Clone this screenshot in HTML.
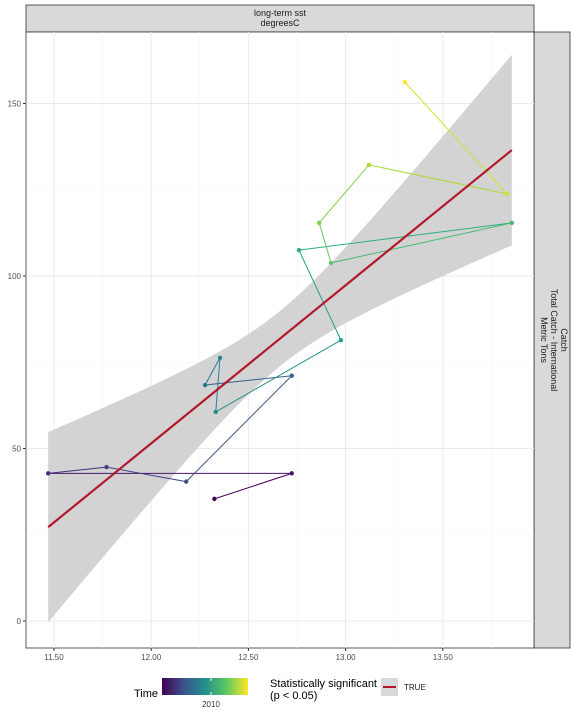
<!DOCTYPE html>
<html><head><meta charset="utf-8"><style>
html,body{margin:0;padding:0;background:#fff;}
svg{display:block;font-family:"Liberation Sans",sans-serif;}
</style></head><body>
<svg id="chart" width="576" height="720" viewBox="0 0 576 720">
<defs><linearGradient id="vir" x1="0" x2="1" y1="0" y2="0">
<stop offset="0" stop-color="#440154"/><stop offset="0.25" stop-color="#3b528b"/><stop offset="0.5" stop-color="#21908c"/><stop offset="0.75" stop-color="#5dc963"/><stop offset="1" stop-color="#fde725"/></linearGradient></defs>
<rect x="26" y="5" width="508" height="27" fill="#d9d9d9" stroke="#333" stroke-width="0.8"/>
<text x="280" y="16" font-size="9" fill="#1a1a1a" text-anchor="middle">long-term sst</text>
<text x="280" y="26" font-size="9" fill="#1a1a1a" text-anchor="middle">degreesC</text>
<rect x="534" y="32" width="36" height="616" fill="#d9d9d9" stroke="#333" stroke-width="0.8"/>
<g transform="translate(552,340) rotate(90)" font-size="9" fill="#1a1a1a" text-anchor="middle">
<text x="0" y="-9">Catch</text><text x="0" y="1">Total Catch - International</text><text x="0" y="11">Metric Tons</text></g>
<rect x="26" y="32" width="508" height="616" fill="#fff" stroke="#333" stroke-width="0.8"/>
<g id="grid"></g><g id="ribbon"></g><g id="series"></g><g id="axes"></g>
<g>
<text x="134" y="697" font-size="11" fill="#000">Time</text>
<rect x="162" y="678" width="86" height="17" fill="url(#vir)"/>
<line x1="211" y1="678" x2="211" y2="681" stroke="#fff"/><line x1="211" y1="692" x2="211" y2="695" stroke="#fff"/>
<text x="211" y="707" font-size="8" fill="#333" text-anchor="middle">2010</text>
<text x="270" y="687" font-size="11" fill="#000">Statistically significant</text>
<text x="270" y="699" font-size="11" fill="#000">(p &lt; 0.05)</text>
<rect x="381" y="678" width="17" height="18" fill="#d9d9d9"/>
<line x1="383" y1="687" x2="396" y2="687" stroke="#b2182b" stroke-width="2"/>
<text x="404" y="690" font-size="8" fill="#1a1a1a">TRUE</text>
</g>
</svg>
<script>
const sst=[12.325,12.723,11.47,11.77,12.18,12.723,12.277,12.354,12.332,12.976,12.76,13.855,12.925,12.864,13.12,13.83,13.305];
const catchVals=[35.4,42.8,42.8,44.6,40.4,71.1,68.4,76.3,60.6,81.4,107.5,115.4,103.8,115.4,132.2,123.8,156.2];
const years=[2001,2002,2003,2004,2005,2006,2007,2008,2009,2010,2011,2012,2013,2014,2015,2016,2017];
const xTicks=[11.5,12,12.5,13,13.5];
const xTickLabels=["11.50","12.00","12.50","13.00","13.50"];
const yTicks=[0,50,100,150];
const fitX=[11.47,13.855];
const fitY=[27.2,136.5];
const NS="http://www.w3.org/2000/svg";
const X=v=>54+(v-11.5)*194.4;
const Y=v=>621-v*3.45;
function mk(t,a,p){const e=document.createElementNS(NS,t);for(const k in a)e.setAttribute(k,a[k]);p.appendChild(e);return e;}
const vs=[[68,1,84],[72,40,120],[62,74,137],[49,104,142],[38,130,142],[31,158,137],[53,183,121],[109,205,89],[180,222,44],[253,231,37]];
function vir(t){const f=t*(vs.length-1),i=Math.min(Math.floor(f),vs.length-2),r=f-i;const c=vs[i].map((v,k)=>Math.round(v+(vs[i+1][k]-v)*r));return `rgb(${c})`;}
const grid=document.getElementById('grid');
for(let i=0;i<xTicks.length;i++){const l=mk('line',{x1:X(xTicks[i]),x2:X(xTicks[i]),y1:32,y2:648,stroke:'#ebebeb','stroke-width':1},grid);

const m=xTicks[i]+0.25;if(X(m)<534){const l2=mk('line',{x1:X(m),x2:X(m),y1:32,y2:648,stroke:'#f4f4f4','stroke-width':0.6},grid);}}
for(const t of yTicks){const l=mk('line',{x1:26,x2:534,y1:Y(t),y2:Y(t),stroke:'#ebebeb','stroke-width':1},grid);
const m=t+25;if(Y(m)>32){const l2=mk('line',{x1:26,x2:534,y1:Y(m),y2:Y(m),stroke:'#f4f4f4','stroke-width':0.6},grid);}}
const slope=(fitY[1]-fitY[0])/(fitX[1]-fitX[0]);const xm=12.66;
const fy=x=>fitY[0]+slope*(x-fitX[0]);const hw=x=>Math.sqrt(64+490*(x-xm)*(x-xm));
let up=[],lo=[];for(let i=0;i<=60;i++){const x=fitX[0]+(fitX[1]-fitX[0])*i/60;up.push(X(x)+','+Y(fy(x)+hw(x)));lo.push(X(x)+','+Y(fy(x)-hw(x)));}
const rib=mk('polygon',{points:up.concat(lo.reverse()).join(' '),fill:'#d3d3d3'},document.getElementById('ribbon'));

const ser=document.getElementById('series');
const y0=years[0],y1=years[years.length-1];
for(let i=0;i<sst.length-1;i++){const s=mk('line',{x1:X(sst[i]),y1:Y(catchVals[i]),x2:X(sst[i+1]),y2:Y(catchVals[i+1]),stroke:vir((years[i]-y0)/(y1-y0)),'stroke-width':1},ser);
}
const fl=mk('line',{x1:X(fitX[0]),y1:Y(fitY[0]),x2:X(fitX[1]),y2:Y(fitY[1]),stroke:'#b2182b','stroke-width':2.2},ser);

for(let i=0;i<sst.length;i++){const c=mk('circle',{cx:X(sst[i]),cy:Y(catchVals[i]),r:2.2,fill:vir((years[i]-y0)/(y1-y0))},ser);
}
const ax=document.getElementById('axes');
for(let i=0;i<xTicks.length;i++){mk('line',{x1:X(xTicks[i]),x2:X(xTicks[i]),y1:648,y2:651,stroke:'#333'},ax);
const t=mk('text',{x:X(xTicks[i]),y:660,'font-size':8,fill:'#4d4d4d','text-anchor':'middle'},ax);t.textContent=xTickLabels[i];
}
for(const v of yTicks){mk('line',{x1:23,x2:26,y1:Y(v),y2:Y(v),stroke:'#333'},ax);
const t=mk('text',{x:21,y:Y(v)+3,'font-size':8,fill:'#4d4d4d','text-anchor':'end'},ax);t.textContent=v;
}
</script>
</body></html>
